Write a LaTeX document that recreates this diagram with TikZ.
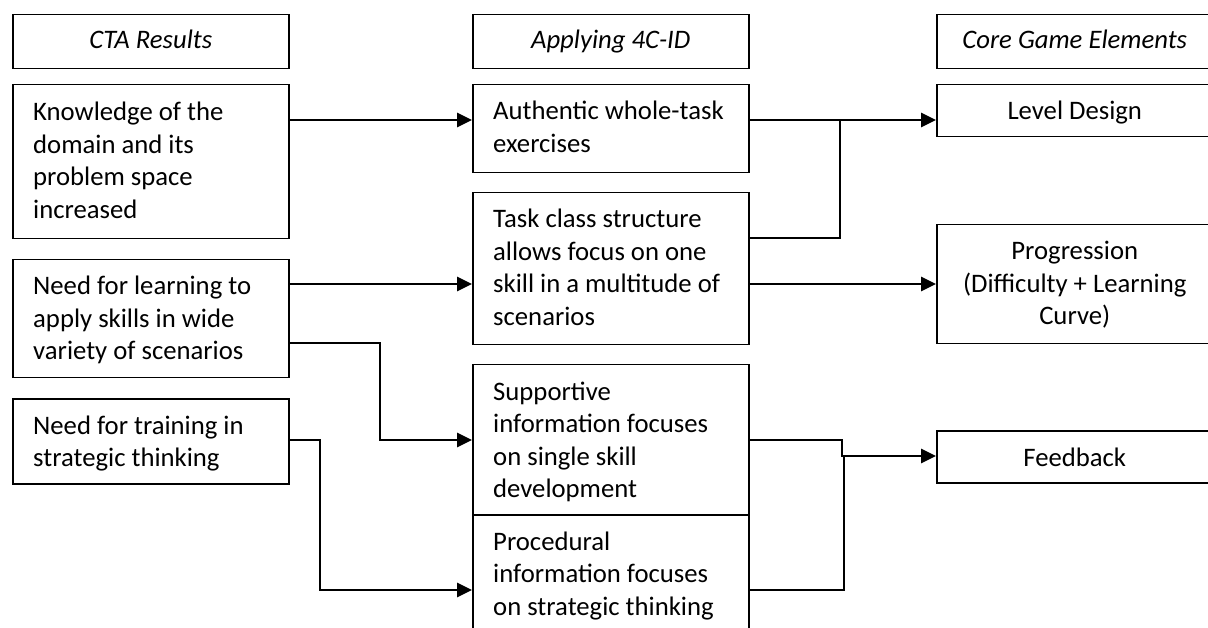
\documentclass[tikz,border=0pt]{standalone}
\usepackage{fontspec}
\setmainfont{Carlito}
\usetikzlibrary{arrows.meta}
\begin{document}
\begin{tikzpicture}[x=1pt,y=-1pt,
  box/.style={draw, line width=1.5pt, minimum width=276pt, anchor=north west, inner sep=0pt},
  txtl/.style={anchor=base west, inner sep=0pt, font=\fontsize{26.7}{32.5}\selectfont},
  txtc/.style={anchor=base, inner sep=0pt, font=\fontsize{26.7}{32.5}\selectfont},
  conn/.style={line width=2.6pt, -{Triangle[length=15pt,width=14pt]}},
  thinl/.style={line width=1.6pt}]
\useasboundingbox (0,0) rectangle (1208,628);
\clip (0,0) rectangle (1208,628);
% left column
\node[box, minimum height=54pt] (hc) at (12,14) {};
\node[box, minimum height=154pt] (k) at (12,84) {};
\node[box, minimum height=118pt] (n1) at (12,259) {};
\node[box, minimum height=85pt] (n2) at (12,398) {};
% middle column
\node[box, minimum height=54pt] (ha) at (472,14) {};
\node[box, minimum height=88pt] (a) at (472,84) {};
\node[box, minimum height=152pt] (t) at (472,192) {};
\node[box, minimum height=150pt] (s) at (472,364) {};
\node[box, minimum height=152pt] (pr) at (472,514) {};
% right column
\node[box, minimum height=54pt] (hg) at (936,14) {};
\node[box, minimum height=52pt] (l) at (936,84) {};
\node[box, minimum height=119pt] (p) at (936,224) {};
\node[box, minimum height=52pt] (f) at (936,430) {};
% texts
\node[txtc] (hct) at ([shift={(0,35)}]hc.north) {\parbox[t]{276pt}{\centering\itshape CTA Results}};
\node[txtc] (hat) at ([shift={(0,35)}]ha.north) {\parbox[t]{276pt}{\centering\itshape Applying 4C-ID}};
\node[txtc] (hgt) at ([shift={(0,35)}]hg.north) {\parbox[t]{276pt}{\centering\itshape Core Game Elements}};
\node[txtl] (kt) at ([shift={(21,37)}]k.north west) {\parbox[t]{255pt}{\raggedright Knowledge of the\\domain and its\\problem space\\increased}};
\node[txtl] (n1t) at ([shift={(21,36)}]n1.north west) {\parbox[t]{255pt}{\raggedright Need for learning to\\apply skills in wide\\variety of scenarios}};
\node[txtl] (n2t) at ([shift={(21,36)}]n2.north west) {\parbox[t]{255pt}{\raggedright Need for training in\\strategic thinking}};
\node[txtl] (at) at ([shift={(21,36)}]a.north west) {\parbox[t]{255pt}{\raggedright Authentic whole-task\\exercises}};
\node[txtl] (tt) at ([shift={(21,36)}]t.north west) {\parbox[t]{255pt}{\raggedright Task class structure\\allows focus on one\\skill in a multitude of\\scenarios}};
\node[txtl] (st) at ([shift={(21,36)}]s.north west) {\parbox[t]{255pt}{\raggedright Supportive\\information focuses\\on single skill\\development}};
\node[txtl] (prt) at ([shift={(21,36)}]pr.north west) {\parbox[t]{255pt}{\raggedright Procedural\\information focuses\\on strategic thinking}};
\node[txtc] (lt) at ([shift={(0,36)}]l.north) {\parbox[t]{276pt}{\centering Level Design}};
\node[txtc] (pt) at ([shift={(0,36)}]p.north) {\parbox[t]{276pt}{\centering Progression\\(Difficulty + Learning\\Curve)}};
\node[txtc] (ft) at ([shift={(0,36)}]f.north) {\parbox[t]{276pt}{\centering Feedback}};
% connectors
\draw[conn] (k.east |- 0,120) -- (a.west |- 0,120);
\draw[conn] (a.east |- 0,120) -- (l.west |- 0,120);
\draw[thinl] (t.east |- 0,238) -- (840,238) -- (840,120);
\draw[conn] (n1.east |- 0,284) -- (t.west |- 0,284);
\draw[conn] (t.east |- 0,284) -- (p.west |- 0,284);
\draw[conn] (n1.east |- 0,343) -- (380,343) -- (380,440) -- (s.west |- 0,440);
\draw[conn] (n2.east |- 0,440) -- (320,440) -- (320,590) -- (pr.west |- 0,590);
\draw[conn] (s.east |- 0,440) -- (842,440) -- (842,456) -- (f.west |- 0,456);
\draw[thinl] (pr.east |- 0,590) -- (844,590) -- (844,456);
\end{tikzpicture}
\end{document}
